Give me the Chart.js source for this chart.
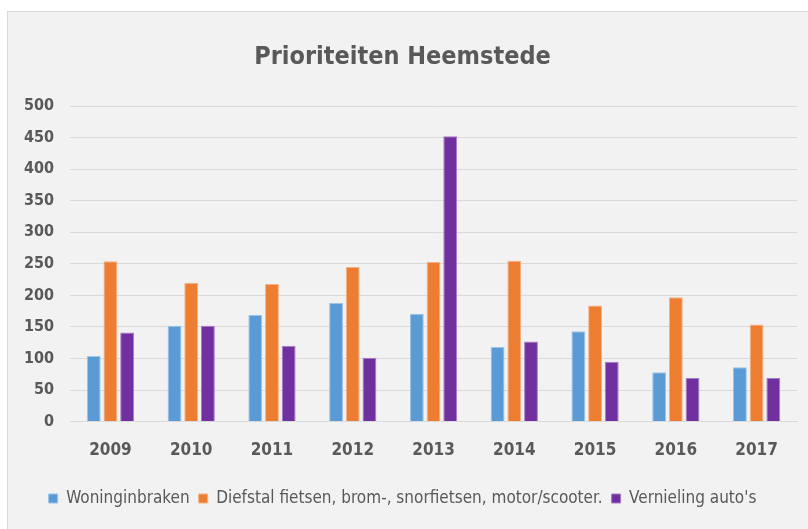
<!DOCTYPE html>
<html>
<head>
<meta charset="utf-8">
<script src="https://cdn.jsdelivr.net/npm/chart.js@4.4.1/dist/chart.umd.min.js"></script>
<style>
  html, body { margin: 0; padding: 0; background: #ffffff; }
  #wrap { position: absolute; left: 7px; top: 11px; width: 801px; height: 518px;
          background: #f2f2f2; border-left: 1px solid #d9d9d9; border-top: 1px solid #d9d9d9; box-sizing: border-box; }
  canvas { display: block; }
</style>
</head>
<body>
<div id="wrap"><canvas id="c"></canvas></div>
<script>
const categories = ["2009", "2010", "2011", "2012", "2013", "2014", "2015", "2016", "2017"];
const woninginbraken = [104, 152, 169, 188, 171, 118, 143, 78, 86];
const diefstal = [254, 220, 218, 245, 253, 255, 184, 197, 154];
const vernieling = [141, 152, 120, 101, 452, 127, 95, 69, 69];
const seriesNames = ["Woninginbraken", "Diefstal fietsen, brom-, snorfietsen, motor/scooter.", "Vernieling auto's"];
const yTicks = [0, 50, 100, 150, 200, 250, 300, 350, 400, 450, 500];

const FONT = "'Liberation Sans Narrow', 'DejaVu Sans Condensed', 'Roboto Condensed', sans-serif";
const c = document.getElementById('c');
c.width = 800; c.height = 517;
c.style.width = '800px'; c.style.height = '517px';

new Chart(c, {
  type: 'bar',
  data: {
    labels: categories,
    datasets: [
      { label: seriesNames[0], data: woninginbraken, backgroundColor: '#5b9bd5', borderColor: '#9dc3e6', borderWidth: 1 },
      { label: seriesNames[1], data: diefstal, backgroundColor: '#ed7d31', borderColor: '#f4b183', borderWidth: 1 },
      { label: seriesNames[2], data: vernieling, backgroundColor: '#7030a0', borderColor: '#a57bc6', borderWidth: 1 }
    ]
  },
  options: {
    responsive: false,
    animation: false,
    devicePixelRatio: 1,
    categoryPercentage: 0.62,
    barPercentage: 0.83,
    layout: { padding: { left: 0, right: 11, top: 0, bottom: 12 } },
    plugins: {
      title: {
        display: true,
        text: 'Prioriteiten Heemstede',
        color: '#595959',
        font: { family: FONT, size: 25, weight: 'bold' },
        padding: { top: 30, bottom: 34 }
      },
      legend: {
        position: 'bottom',
        labels: {
          color: '#595959',
          font: { family: FONT, size: 17 },
          boxWidth: 9, boxHeight: 9,
          padding: 9
        }
      },
      tooltip: { enabled: false }
    },
    scales: {
      x: {
        grid: { display: false },
        border: { display: true, color: '#d9d9d9', width: 1 },
        ticks: { color: '#595959', font: { family: FONT, size: 17, weight: 'bold' }, padding: 11 },
        afterFit: (axis) => { axis.height += 9; }
      },
      y: {
        min: 0, max: 500,
        afterBuildTicks: (axis) => { axis.ticks = yTicks.map(v => ({ value: v })); },
        grid: { color: '#d9d9d9', lineWidth: 1, drawTicks: false },
        border: { display: false },
        ticks: { color: '#595959', font: { family: FONT, size: 16, weight: 'bold' }, padding: 16 }
      }
    }
  }
});
</script>
</body>
</html>
